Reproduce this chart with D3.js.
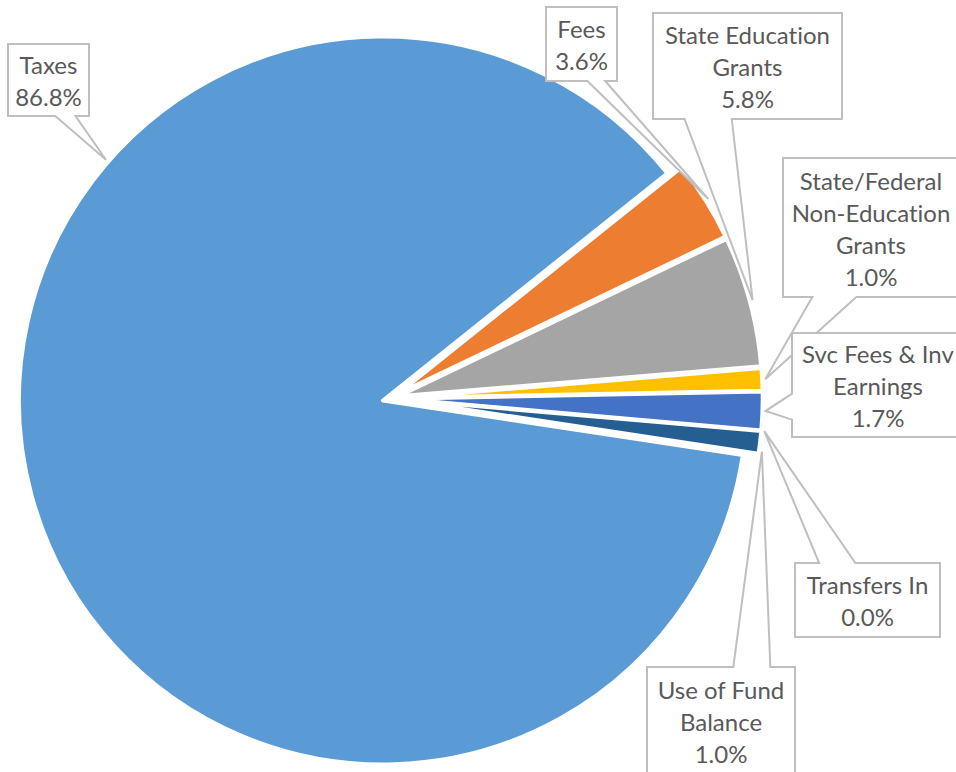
<!DOCTYPE html>
<html>
<head>
<meta charset="utf-8">
<script src="https://cdn.jsdelivr.net/npm/d3@7"></script>
<style>
  html, body { margin: 0; padding: 0; background: #fff; }
</style>
</head>
<body>
<div id="d3chart"></div>
<script>
// DATA ===========================================================================================
const categories = ["Taxes", "Fees", "State Education\nGrants", "State/Federal\nNon-Education\nGrants",
  "Svc Fees & Inv\nEarnings", "Transfers In", "Use of Fund\nBalance"]
const values = [86.8, 3.6, 5.8, 1.0, 1.7, 0.0, 1.0]
const colors = ["#5B9BD5", "#ED7D31", "#A5A5A5", "#FFC000", "#4472C4", "#70AD47", "#255E91"]

// callout boxes [x, y, w, h], edge the tail leaves from, side of that edge (-1 first half, 1 second half)
const labelBoxes = [
  [8, 44, 81, 72], [546, 7, 71, 74], [653, 13, 189, 106], [783, 158, 176, 139],
  [792, 333, 172, 104], [795, 563, 145, 74], [647, 667, 148, 108]
]
const tailEdges = ["bottom", "bottom", "bottom", "bottom", "left", "top", "top"]
const tailSides = [1, 1, -1, -1, 1, -1, 1]
const tailAngles = [311, null, null, null, null, null, 98.2] // degrees, null = slice middle

// SET UP =========================================================================================
const width = 956
const height = 772
const center = {x: 390.7, y: 398.4}
const radius = 364
const explode = 8
const startDeg = 98.6

const svg = d3.select('#d3chart')
  .append('svg')
  .attr('width', width)
  .attr('height', height)
  .style('font-family', 'Lato, "Open Sans", sans-serif')
  .style('font-variant-ligatures', 'none')

const data = categories.map((c, i) => ({name: c, value: values[i], color: colors[i], i: i}))

const pie = d3.pie()
  .sort(null)
  .value(d => d.value)
  .startAngle(startDeg * Math.PI / 180)
  .endAngle(startDeg * Math.PI / 180 + 2 * Math.PI)

const arc = d3.arc()
  .innerRadius(0)
  .outerRadius(radius)

const arcs = pie(data)

const mid = a => (a.startAngle + a.endAngle) / 2
const offset = a => [Math.sin(mid(a)) * explode, -Math.cos(mid(a)) * explode]

// MARKS ==========================================================================================
const g = svg.append('g')
  .attr('transform', `translate(${center.x}, ${center.y})`)

g.selectAll('path.slice')
  .data(arcs.filter(a => a.value > 0))
  .join('path')
    .attr('class', 'slice')
    .attr('d', arc)
    .attr('transform', a => `translate(${offset(a)[0]}, ${offset(a)[1]})`)
    .attr('fill', a => a.data.color)
    .attr('stroke', '#fff')
    .attr('stroke-width', 4)
    .attr('stroke-linejoin', 'round')

// LABELS =========================================================================================
function tipPoint(a) {
  const i = a.data.i
  const ang = tailAngles[i] == null ? mid(a) : tailAngles[i] * Math.PI / 180
  const o = offset(a)
  const rr = radius + 3
  return [center.x + o[0] + Math.sin(ang) * rr, center.y + o[1] - Math.cos(ang) * rr]
}

// rectangle with a wedge, like the office "wedgeRectCallout" shape
function calloutPath(box, edge, side, tip) {
  const [l, t, w, h] = box
  const r = l + w, b = t + h
  const f1 = side > 0 ? 7 / 12 : 2 / 12
  const f2 = side > 0 ? 10 / 12 : 5 / 12
  const xa = l + w * f1, xb = l + w * f2
  const ya = t + h * f1, yb = t + h * f2
  const p = d3.path()
  p.moveTo(l, t)
  if (edge === 'top') {
    p.lineTo(xa, t); p.lineTo(tip[0], tip[1]); p.lineTo(xb, t)
  }
  p.lineTo(r, t)
  if (edge === 'right') {
    p.lineTo(r, ya); p.lineTo(tip[0], tip[1]); p.lineTo(r, yb)
  }
  p.lineTo(r, b)
  if (edge === 'bottom') {
    p.lineTo(xb, b); p.lineTo(tip[0], tip[1]); p.lineTo(xa, b)
  }
  p.lineTo(l, b)
  if (edge === 'left') {
    p.lineTo(l, yb); p.lineTo(tip[0], tip[1]); p.lineTo(l, ya)
  }
  p.closePath()
  return p.toString()
}

const fmt = d3.format('.1f')
const lineH = 32

const labels = svg.selectAll('g.label')
  .data(arcs)
  .join('g')
    .attr('class', 'label')

labels.append('path')
  .attr('d', a => calloutPath(labelBoxes[a.data.i], tailEdges[a.data.i], tailSides[a.data.i], tipPoint(a)))
  .attr('fill', '#fff')
  .attr('stroke', '#BFBFBF')
  .attr('stroke-width', 2)

labels.each(function(a) {
  const box = labelBoxes[a.data.i]
  const lines = a.data.name.split('\n').concat([fmt(a.data.value) + '%'])
  const cx = box[0] + box[2] / 2
  const cy = box[1] + box[3] / 2
  const first = cy - (lines.length - 1) * lineH / 2 + 10
  d3.select(this).selectAll('text')
    .data(lines)
    .join('text')
      .attr('x', cx)
      .attr('y', (d, k) => first + k * lineH)
      .attr('text-anchor', 'middle')
      .attr('fill', '#595959')
      .style('font-size', '24px')
      .text(d => d)
})
</script>
</body>
</html>
